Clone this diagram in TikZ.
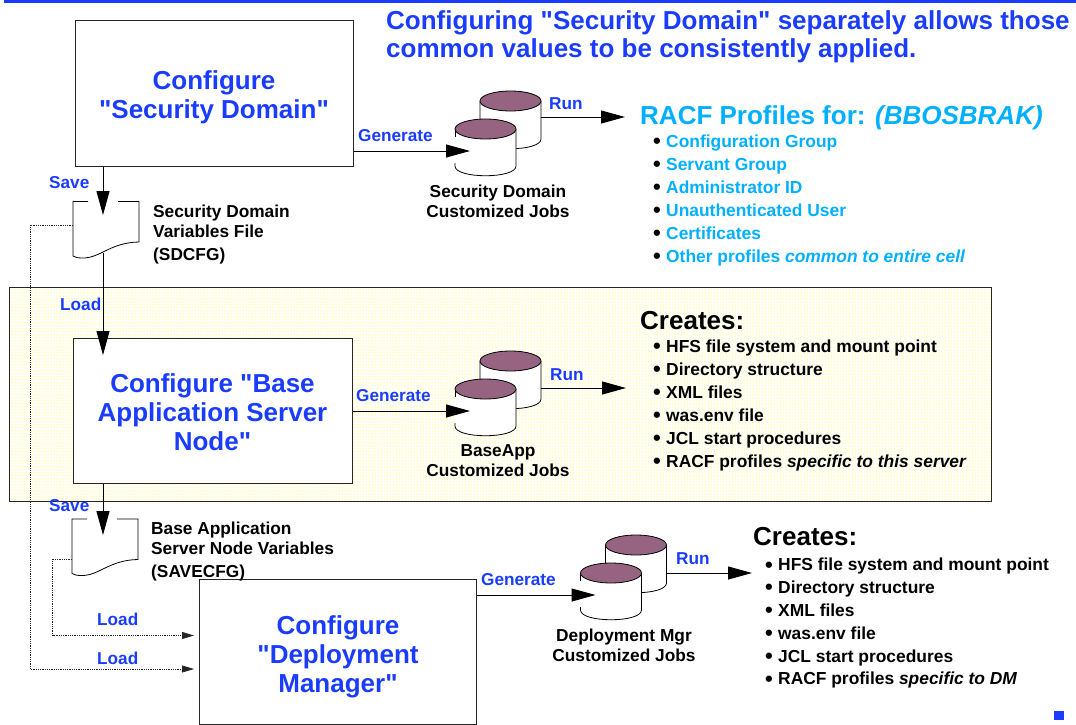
\documentclass[tikz,border=0pt]{standalone}
\usepackage{fontspec}
\setmainfont[Ligatures=TeXOff]{Liberation Sans}
\usetikzlibrary{arrows.meta,patterns}

\definecolor{titleblue}{RGB}{26,60,255}
\definecolor{racfcyan}{RGB}{0,176,255}
\definecolor{canmauve}{RGB}{150,100,128}

\tikzset{
  configbox/.style={draw=black!85, line width=1pt, fill=white, minimum width=#1, minimum height=145pt, inner sep=0pt},
  boxtext/.style={align=center, text=titleblue, font=\fontsize{26}{29}\selectfont\bfseries, inner sep=0pt},
  actlabel/.style={text=titleblue, font=\fontsize{17.2}{18}\selectfont\bfseries, inner sep=0pt, anchor=base west},
  blacklabel/.style={text=black, font=\fontsize{17.3}{20}\selectfont\bfseries, inner sep=0pt},
  headlabel/.style={font=\fontsize{26}{29}\selectfont\bfseries, inner sep=0pt, anchor=base west},
  itemlabel/.style={font=\fontsize{17.4}{18}\selectfont\bfseries, inner sep=0pt, anchor=base west},
  bigarrow/.style={-{Triangle[length=24pt,width=13pt]}, line width=1pt, black},
  loadarrow/.style={-{Triangle[length=12pt,width=7pt]}, densely dotted, line width=0.8pt, black!85}
}

\newcommand{\listdot}{{\color{black}\raisebox{-1.3pt}{\fontsize{22}{22}\selectfont\textbullet}}\hspace{5.3pt}}

% pair of cans, #1 = name, #2 = left of back can, #3 = middle of its lid
\newcommand{\jobstack}[3]{
  \draw[fill=white, line width=0.8pt] (#2,#3) -- (#2,#3+38) .. controls (#2,#3+51) and (#2+61,#3+51) .. (#2+61,#3+38) -- (#2+61,#3);
  \draw[fill=canmauve, line width=0.8pt] (#2+30.5,#3) ellipse [x radius=30.5, y radius=10];
  \fill[white] (#2-25,#3+28) -- (#2-25,#3+65) .. controls (#2-25,#3+78) and (#2+36,#3+78) .. (#2+36,#3+65) -- (#2+36,#3+28) -- cycle;
  \draw[line width=0.8pt] (#2-25,#3+28) -- (#2-25,#3+36);
  \draw[line width=0.8pt] (#2-25,#3+62) -- (#2-25,#3+65) .. controls (#2-25,#3+78) and (#2+36,#3+78) .. (#2+36,#3+65) -- (#2+36,#3+28);
  \draw[fill=canmauve, line width=0.8pt] (#2+5.5,#3+28) ellipse [x radius=30.5, y radius=10];
  \coordinate (#1in) at (#2-10,#3+50);
  \coordinate (#1right) at (#2+61,#3);
}

% variables file, #1 = left, #2 = top
\newcommand{\varfile}[2]{
  \draw[line width=0.8pt] (#1+15,#2) -- (#1,#2) -- (#1,#2+54.5) .. controls (#1+3,#2+56.5) and (#1+6,#2+56.5) .. (#1+9,#2+56.5)
    .. controls (#1+27,#2+57) and (#1+37,#2+41) .. (#1+66,#2+40.5) -- (#1+66,#2) -- (#1+45,#2);
}

\begin{document}
\begin{tikzpicture}[x=1pt, y=-1pt]
    \useasboundingbox (0,0) rectangle (1076,725);

    % Top band and corner mark
    \fill[titleblue] (4,0) rectangle (1076,3);
    \fill[titleblue] (1054,711) rectangle (1064,720);

    % Yellow panel
    \draw[black!85, line width=1pt, pattern=dots, pattern color=yellow] (9,287) rectangle (991,501);

    % Title
    \node[headlabel, text=titleblue] (title1) at (386,30) {Configuring "Security Domain" separately allows those};
    \node[headlabel, text=titleblue] (title2) at (386,58) {common values to be consistently applied.};

    % Configure boxes
    \node[configbox=278pt] (secbox) at (214,93.5) {};
    \node[boxtext] (sectext) at (214,97.5) {Configure\\"Security Domain"};
    \node[configbox=279pt] (basebox) at (212.5,411) {};
    \node[boxtext] (basetext) at (212.5,412) {Configure "Base\\Application Server\\Node"};
    \node[configbox=277pt] (dmgrbox) at (337.5,652) {};
    \node[boxtext] (dmgrtext) at (338,657) {Configure\\"Deployment\\Manager"};

    % Variables files
    \varfile{73}{201.5}
    \varfile{72}{519}
    \coordinate (sdcfgtip) at (103,215);
    \coordinate (sdcfgout) at (103,253);
    \coordinate (sdcfgleft) at (73,225);
    \coordinate (savetip) at (103,535);
    \coordinate (saveleft) at (72,559);
    \coordinate (baseload) at (103,355);
    \coordinate (cornera) at (30,225);
    \coordinate (cornerb) at (52.5,559);
    \coordinate (loada) at (194,669);
    \coordinate (loadb) at (194,635.5);
    \node[blacklabel, anchor=north west, align=left] (sdcfglabel) at (153,205) {Security Domain\\Variables File\\[3pt](SDCFG)};
    \node[blacklabel, anchor=north west, align=left] (savelabel) at (151,522) {Base Application\\Server Node Variables\\[3pt](SAVECFG)};

    % Save and load arrows
    \draw[bigarrow] (secbox.south -| sdcfgtip) -- (sdcfgtip);
    \draw[bigarrow] (sdcfgout) -- (baseload);
    \draw[bigarrow] (basebox.south -| savetip) -- (savetip);
    \draw[loadarrow] (sdcfgleft) -- (cornera) |- (loada);
    \draw[loadarrow] (saveleft) -- (cornerb) |- (loadb);

    % Job stacks
    \jobstack{sec}{480}{101}
    \jobstack{base}{480}{361}
    \jobstack{dmgr}{605.5}{545}
    \coordinate (secrun) at (625,117);
    \coordinate (baserun) at (626,388);
    \coordinate (dmgrrun) at (752,573);

    % Generate and run arrows
    \draw[bigarrow] (secbox.east |- secin) -- (secin);
    \draw[bigarrow] (secrun -| secright) -- (secrun);
    \draw[bigarrow] (basebox.east |- basein) -- (basein);
    \draw[bigarrow] (baserun -| baseright) -- (baserun);
    \draw[bigarrow] (dmgrbox.east |- dmgrin) -- (dmgrin);
    \draw[bigarrow] (dmgrrun -| dmgrright) -- (dmgrrun);

    % Labels on arrows
    \node[actlabel] (savea) at (49,188.2) {Save};
    \node[actlabel] (loadbase) at (60,310.2) {Load};
    \node[actlabel] (saveb) at (49,511.2) {Save};
    \node[actlabel] (loadc) at (97,625.2) {Load};
    \node[actlabel] (loadd) at (97,664.2) {Load};
    \node[actlabel] (gena) at (358,141.2) {Generate};
    \node[actlabel] (genb) at (356,401.2) {Generate};
    \node[actlabel] (genc) at (481,585.2) {Generate};
    \node[actlabel] (runa) at (549,109.2) {Run};
    \node[actlabel] (runb) at (550,380.2) {Run};
    \node[actlabel] (runc) at (676,564.2) {Run};

    % Stack captions
    \node[blacklabel, align=center] (seccap) at (498,201) {Security Domain\\Customized Jobs};
    \node[blacklabel, align=center] (basecap) at (498,461) {BaseApp\\Customized Jobs};
    \node[blacklabel, align=center] (dmgrcap) at (624,645) {Deployment Mgr\\Customized Jobs};

    % RACF list
    \node[headlabel, text=racfcyan] (racfhead) at (640,124) {RACF Profiles for: {\itshape (BBOSBRAK)}};
    \foreach \itemtext [count=\i] in {Configuration Group, Servant Group, Administrator ID, Unauthenticated User, Certificates, Other profiles {\itshape common to entire cell}}
        \node[itemlabel, text=racfcyan] (racf\i) at (653,124+23*\i) {\listdot\itemtext};

    % Creates lists
    \node[headlabel, text=black] (basehead) at (640,329) {Creates:};
    \foreach \itemtext [count=\i] in {HFS file system and mount point, Directory structure, XML files, was.env file, JCL start procedures, RACF profiles {\itshape specific to this server}}
        \node[itemlabel] (basecr\i) at (653,329+23*\i) {\listdot\itemtext};
    \node[headlabel, text=black] (dmgrhead) at (753,545) {Creates:};
    \foreach \itemtext [count=\i] in {HFS file system and mount point, Directory structure, XML files, was.env file, JCL start procedures, RACF profiles {\itshape specific to DM}}
        \node[itemlabel] (dmgrcr\i) at (765,548+22.8*\i) {\listdot\itemtext};
\end{tikzpicture}
\end{document}
